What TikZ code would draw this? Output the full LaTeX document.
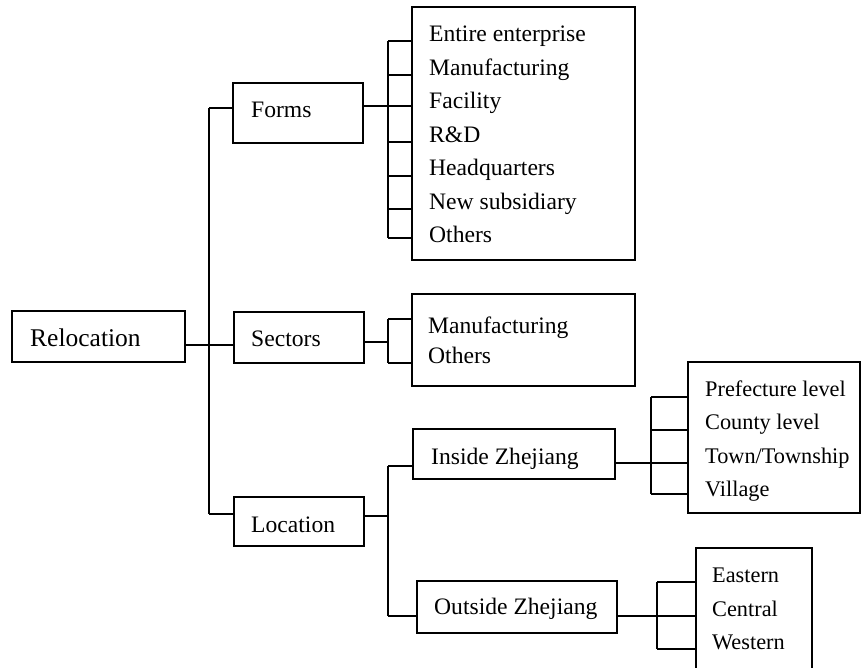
\documentclass[tikz,border=0pt]{standalone}
\usepackage{fontspec}
\setmainfont{Liberation Serif}
\begin{document}
\begin{tikzpicture}[x=1pt,y=-1pt,
  box/.style={draw, line width=1.6pt, rectangle, inner sep=0pt},
  lbl/.style={anchor=base west, inner sep=0pt, font=\fontsize{23.6}{28}\selectfont},
  big/.style={anchor=base west, inner sep=0pt, font=\fontsize{25.5}{30}\selectfont},
  sml/.style={anchor=base west, inner sep=0pt, font=\fontsize{22.3}{26}\selectfont},
  conn/.style={line width=1.6pt}]
\useasboundingbox (0,0) rectangle (861,668);
\begin{scope}
\clip (0,0) rectangle (861,668);
% boxes (corner coordinates)
\node[box, minimum width=173pt, minimum height=51pt] (reloc) at (98.5,336.5) {};
\node[box, minimum width=130pt, minimum height=60pt] (forms) at (298,113) {};
\node[box, minimum width=130pt, minimum height=51pt] (sectors) at (299,337.5) {};
\node[box, minimum width=130pt, minimum height=49pt] (location) at (299,521.5) {};
\node[box, minimum width=202pt, minimum height=50pt] (inside) at (514,454) {};
\node[box, minimum width=200pt, minimum height=52pt] (outside) at (517,607) {};
\node[box, minimum width=223pt, minimum height=253pt] (formslist) at (523.5,133.5) {};
\node[box, minimum width=223pt, minimum height=92pt] (sectorslist) at (523.5,340) {};
\node[box, minimum width=172pt, minimum height=151pt] (insidelist) at (774,437.5) {};
\node[box, minimum width=116pt, minimum height=134pt] (outsidelist) at (754,615) {};
\end{scope}
% labels
\node[big] (relocT) at (30,346) {Relocation};
\node[lbl] (formsT) at (251,118) {Forms};
\node[lbl] (sectorsT) at (251,346) {Sectors};
\node[lbl] (locationT) at (251,532) {Location};
\node[lbl] (insideT) at (431,464) {Inside Zhejiang};
\node[lbl] (outsideT) at (434,614) {Outside Zhejiang};
\node[lbl] (f1) at (429,42) {Entire enterprise};
\node[lbl] (f2) at (429,75.5) {Manufacturing};
\node[lbl] (f3) at (429,109) {Facility};
\node[lbl] (f4) at (429,142.5) {R\&D};
\node[lbl] (f5) at (429,176) {Headquarters};
\node[lbl] (f6) at (429,209.5) {New subsidiary};
\node[lbl] (f7) at (429,243) {Others};
\node[lbl] (s1) at (428,333) {Manufacturing};
\node[lbl] (s2) at (428,363) {Others};
\node[sml] (i1) at (705,396) {Prefecture level};
\node[sml] (i2) at (705,429.5) {County level};
\node[sml] (i3) at (705,463) {Town/Township};
\node[sml] (i4) at (705,496.5) {Village};
\node[sml] (o1) at (712,582) {Eastern};
\node[sml] (o2) at (712,616) {Central};
\node[sml] (o3) at (712,649) {Western};
% trunk
\coordinate (tTop) at (209,108);
\coordinate (tMid) at (209,345);
\coordinate (tBot) at (209,514);
\draw[conn] (tTop) -- (tBot);
\draw[conn] (tTop) -- (forms.west |- tTop);
\draw[conn] (reloc.east |- tMid) -- (sectors.west |- tMid);
\draw[conn] (tBot) -- (location.west |- tBot);
% forms bracket
\coordinate (fb) at (388,106);
\coordinate (fbTop) at (388,41);
\coordinate (fbBot) at (388,238);
\draw[conn] (forms.east |- fb) -- (fb);
\draw[conn] (fbTop) -- (fbBot);
\foreach \y in {41,75,106,142,176,209,238}
  \draw[conn] (388,\y) -- (formslist.west |- 388,\y);
% sectors bracket
\coordinate (sb) at (388,342);
\coordinate (sbTop) at (388,319);
\coordinate (sbBot) at (388,363);
\draw[conn] (sectors.east |- sb) -- (sb);
\draw[conn] (sbTop) -- (sbBot);
\draw[conn] (sbTop) -- (sectorslist.west |- sbTop);
\draw[conn] (sbBot) -- (sectorslist.west |- sbBot);
% location bracket
\coordinate (lb) at (388,516);
\coordinate (lbTop) at (388,466);
\coordinate (lbBot) at (388,616);
\draw[conn] (location.east |- lb) -- (lb);
\draw[conn] (lbTop) -- (lbBot);
\draw[conn] (lbTop) -- (inside.west |- lbTop);
\draw[conn] (lbBot) -- (outside.west |- lbBot);
% inside bracket
\coordinate (ib) at (651,463);
\coordinate (ibTop) at (651,397);
\coordinate (ibBot) at (651,494);
\draw[conn] (inside.east |- ib) -- (ib);
\draw[conn] (ibTop) -- (ibBot);
\foreach \y in {397,430,463,494}
  \draw[conn] (651,\y) -- (insidelist.west |- 651,\y);
% outside bracket
\coordinate (ob) at (657,616);
\coordinate (obTop) at (657,582);
\coordinate (obBot) at (657,649);
\draw[conn] (outside.east |- ob) -- (ob);
\draw[conn] (obTop) -- (obBot);
\foreach \y in {582,616,649}
  \draw[conn] (657,\y) -- (outsidelist.west |- 657,\y);
\end{tikzpicture}
\end{document}
